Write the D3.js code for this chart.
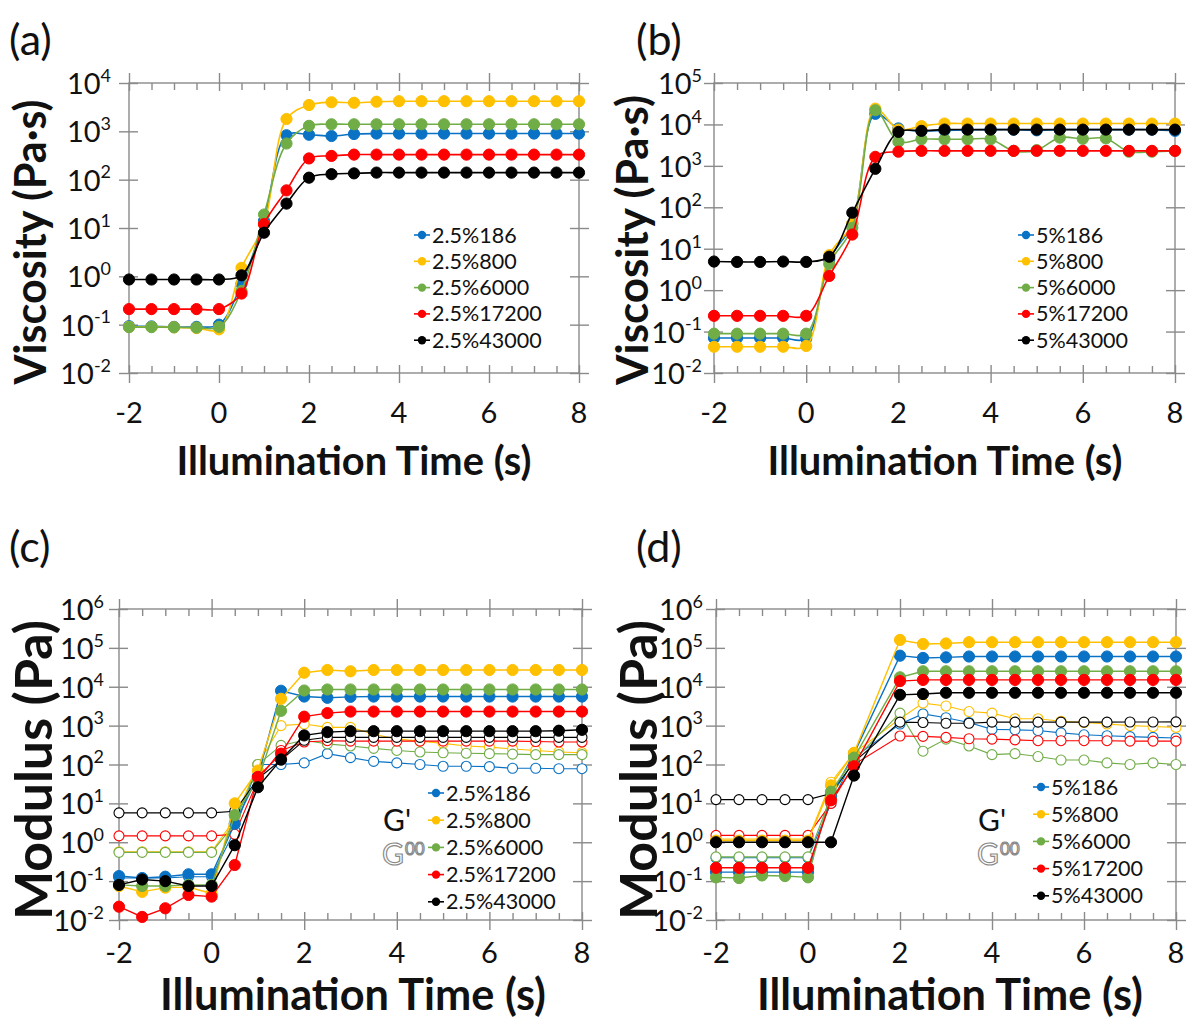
<!DOCTYPE html>
<html><head><meta charset="utf-8">
<script src="https://cdn.jsdelivr.net/npm/d3@7"></script>
<style>
body{margin:0;background:#fff;}
svg{display:block;}
text{font-family:Lato,"Open Sans",sans-serif;fill:#111;}
</style>
</head><body>
<svg id="chart" width="1186" height="1019"></svg>
<script>
// ---------------- DATA ----------------
const times = [-2,-1.5,-1,-0.5,0,0.5,1,1.5,2,2.5,3,3.5,4,4.5,5,5.5,6,6.5,7,7.5,8];
const xTickValues = [-2,0,2,4,6,8];
const seriesColors = ["#0a72c4","#ffc000","#70ad47","#ff0000","#000000"];
const labels25 = ["2.5%186","2.5%800","2.5%6000","2.5%17200","2.5%43000"];
const labels5 = ["5%186","5%800","5%6000","5%17200","5%43000"];

// (a) viscosity, 2.5%
const viscA186   = [0.093,0.092,0.09,0.09,0.1,0.7,14,830,850,800,880,900,900,900,900,900,900,900,900,900,900];
const viscA800   = [0.09,0.09,0.088,0.085,0.08,1.5,12,1800,3500,4000,3900,4100,4200,4200,4200,4200,4200,4200,4200,4200,4200];
const viscA6000  = [0.089,0.089,0.088,0.087,0.09,0.5,19,560,1300,1400,1400,1400,1400,1400,1400,1400,1400,1400,1400,1400,1400];
const viscA17200 = [0.21,0.21,0.21,0.21,0.21,0.44,12,60,275,310,330,330,330,330,330,330,330,330,330,330,330];
const viscA43000 = [0.86,0.86,0.86,0.86,0.86,1.05,8,32,110,130,135,140,140,140,140,140,140,140,140,140,140];

// (b) viscosity, 5%
const viscB186   = [0.07,0.07,0.07,0.07,0.068,5.5,40,18000,8000,7000,7200,7400,7500,7500,7200,7500,7500,7500,7500,7500,7000];
const viscB800   = [0.043,0.043,0.043,0.043,0.045,7,41,24000,7500,9100,10500,10500,10500,10500,10500,10500,10500,10500,10500,10500,10500];
const viscB6000  = [0.089,0.089,0.089,0.089,0.089,4.3,32,22000,3800,4400,4400,4400,4400,2300,2400,4800,4500,4600,2200,2200,2300];
const viscB17200 = [0.24,0.24,0.24,0.24,0.24,2.2,22,1650,2200,2300,2300,2300,2300,2300,2300,2300,2300,2300,2300,2300,2300];
const viscB43000 = [4.9,4.8,4.8,4.9,4.8,6.4,74,850,6600,7000,7500,7500,7500,7500,7500,7500,7500,7500,7500,7500,7500];

// (c) modulus, 2.5%  G' (storage, filled) and G'' (loss, hollow)
const gpC186   = [0.135,0.12,0.13,0.15,0.15,3,50,7900,5600,5200,5500,5600,5600,5600,5600,5600,5600,5600,5600,5600,5600];
const gpC800   = [0.075,0.053,0.068,0.07,0.048,10,70,4900,23000,27000,25000,27000,27000,27000,27000,27000,27000,27000,27000,27000,27000];
const gpC6000  = [0.08,0.075,0.075,0.08,0.08,5,40,2400,8000,8500,8500,8500,8500,8500,8500,8500,8500,8500,8500,8500,8500];
const gpC17200 = [0.022,0.012,0.02,0.044,0.04,0.26,48,190,1700,2100,2300,2300,2300,2300,2300,2300,2300,2300,2300,2300,2300];
const gpC43000 = [0.08,0.11,0.1,0.075,0.075,0.84,26,135,560,680,720,720,720,720,720,720,720,720,720,740,780];
const gppC186   = [0.12,0.12,0.12,0.13,0.13,2,100,100,110,190,150,120,110,100,90,90,88,80,80,78,78];
const gppC800   = [0.57,0.57,0.57,0.57,0.57,4,100,1000,1100,900,900,600,450,400,350,300,280,250,230,210,200];
const gppC6000  = [0.55,0.55,0.55,0.55,0.55,3,100,310,420,340,300,260,230,210,200,195,190,185,180,180,180];
const gppC17200 = [1.46,1.46,1.46,1.46,1.46,1.6,40,230,380,410,400,400,400,400,400,400,400,400,390,380,380];
const gppC43000 = [5.7,5.7,5.7,5.7,5.7,6.3,43,130,420,500,500,500,500,500,500,500,500,500,500,500,500];

// (d) modulus, 5% (no point at 1.5 s)
const gpD186   = [0.17,0.17,0.17,0.17,0.17,15,190,null,63000,55000,57000,60000,60000,60000,60000,60000,60000,60000,60000,60000,60000];
const gpD800   = [1.1,1.1,1.1,1.1,1.1,29,200,null,160000,126000,130000,140000,140000,140000,140000,140000,140000,140000,140000,140000,140000];
const gpD6000  = [0.125,0.12,0.14,0.135,0.125,20,150,null,17500,25000,25000,25000,25000,25000,25000,25000,25000,25000,25000,25000,25000];
const gpD17200 = [0.22,0.22,0.22,0.22,0.22,12,90,null,14000,15000,15000,15000,15000,15000,15000,15000,15000,15000,15000,15000,15000];
const gpD43000 = [1.0,1.0,1.0,1.0,1.0,1.0,52,null,6200,6500,7000,7000,7000,7000,7000,7000,7000,7000,7000,7000,7000];
const gppD186   = [0.4,0.4,0.4,0.4,0.4,10,150,null,1100,2000,1600,1200,800,780,750,650,580,550,520,500,480];
const gppD800   = [1.2,1.2,1.2,1.2,1.2,35,200,null,1500,3800,3200,2300,2100,1500,1500,1300,1200,1100,1000,950,900];
const gppD6000  = [0.42,0.42,0.42,0.42,0.42,15,130,null,2100,220,450,300,180,190,160,130,130,110,100,110,100];
const gppD17200 = [1.5,1.5,1.5,1.5,1.5,10,100,null,540,530,500,460,450,430,410,410,410,410,400,400,400];
const gppD43000 = [12.5,12.5,12.5,12.5,12.5,18,115,null,1230,1200,1150,1150,1230,1230,1230,1230,1230,1230,1240,1240,1250];

// ---------------- DRAWING ----------------
const svg = d3.select("#chart");
const AX = "#8a8a8a";

function fit(sel, target){
  const len = sel.node().getComputedTextLength();
  const fs = parseFloat(sel.attr("font-size"));
  sel.attr("font-size", fs*target/len);
}

function panel(p){
  const g = svg.append("g");
  const x = d3.scaleLinear().domain([-2,8]).range([p.x0,p.x1]);
  const y = d3.scaleLog().domain([1e-2,p.ymax]).range([p.yB,p.yT]);
  const minorX = d3.range(-2,8.001,0.5).filter(v=>!xTickValues.includes(v));
  const eMax = Math.round(Math.log10(p.ymax));
  const decades = d3.range(-2,eMax+1).map(e=>Math.pow(10,e));
  const clean = s=>{s.select(".domain").remove();s.selectAll("text").remove();s.selectAll("line").attr("stroke",AX).attr("stroke-width",1.4);};
  const ax = (tr,gen)=>g.append("g").attr("transform",tr).call(gen.tickFormat("")).call(clean);
  // bottom
  ax(`translate(0,${p.yB})`, d3.axisBottom(x).tickValues(xTickValues).tickSize(10));
  ax(`translate(0,${p.yB})`, d3.axisTop(x).tickValues(xTickValues).tickSize(8));
  ax(`translate(0,${p.yB})`, d3.axisTop(x).tickValues(minorX).tickSize(7));
  // top
  ax(`translate(0,${p.yT})`, d3.axisTop(x).tickValues(xTickValues).tickSize(10));
  ax(`translate(0,${p.yT})`, d3.axisBottom(x).tickValues(xTickValues).tickSize(8));
  ax(`translate(0,${p.yT})`, d3.axisBottom(x).tickValues(minorX).tickSize(7));
  // left / right
  ax(`translate(${p.x0},0)`, d3.axisLeft(y).tickValues(decades).tickSize(10));
  ax(`translate(${p.x0},0)`, d3.axisRight(y).tickValues(decades).tickSize(9));
  ax(`translate(${p.x1},0)`, d3.axisLeft(y).tickValues(decades).tickSize(9));
  ax(`translate(${p.x1},0)`, d3.axisRight(y).tickValues(decades).tickSize(10));
  // frame
  g.append("rect").attr("x",p.x0).attr("y",p.yT).attr("width",p.x1-p.x0).attr("height",p.yB-p.yT)
    .attr("fill","none").attr("stroke",AX).attr("stroke-width",1.4);

  // y tick labels
  decades.forEach(v=>{
    const e = Math.round(Math.log10(v));
    const t = g.append("text").attr("x",p.x0-p.labGap).attr("y",y(v)+p.supBase).attr("text-anchor","end")
      .attr("font-size",p.tickFs);
    t.append("tspan").text("10");
    t.append("tspan").attr("font-size",p.tickFs*0.62).attr("dy",-p.tickFs*0.42).text(String(e));
  });
  // x tick labels
  xTickValues.forEach(v=>{
    g.append("text").attr("x",x(v)).attr("y",p.yB+p.xLabOff).attr("text-anchor","middle")
      .attr("font-size",p.tickFs).text(String(v));
  });
  // titles
  const xt = g.append("text").attr("x",p.xtCx).attr("y",p.xtY).attr("text-anchor","middle")
    .attr("font-weight",700).attr("font-size",36).text("Illumination Time (s)");
  fit(xt,p.xtW);
  const yt = g.append("text").attr("transform",`translate(${p.ytX},${p.ytCy}) rotate(-90)`).attr("text-anchor","middle")
    .attr("font-weight",700).attr("font-size",40).text(p.yTitle);
  fit(yt,p.ytW);
  g.append("text").attr("x",p.tagX).attr("y",p.tagY).attr("font-size",43).text(p.tag);

  // series
  const line = d3.line().x(d=>x(d[0])).y(d=>y(d[1]))
    .curve(p.smooth ? d3.curveCatmullRom.alpha(0.5) : d3.curveLinear);
  const drawSet = (set, hollow)=>{
    set.forEach((vals,i)=>{
      const pts = times.map((t,k)=>[t,vals[k]]).filter(d=>d[1]!=null);
      g.append("path").attr("d",line(pts)).attr("fill","none").attr("stroke",seriesColors[i])
        .attr("stroke-width", hollow?1.1:(p.smooth?1.6:1.4));
      g.append("g").selectAll("circle").data(pts).join("circle")
        .attr("cx",d=>x(d[0])).attr("cy",d=>y(d[1])).attr("r",hollow?5:5.6)
        .attr("fill",hollow?"#fff":seriesColors[i]).attr("stroke",seriesColors[i]).attr("stroke-width",hollow?1.1:1);
    });
  };
  if(p.loss) drawSet(p.loss,true);
  drawSet(p.main,false);

  // legend
  p.legendLabels.forEach((lab,i)=>{
    const yy = p.legY + i*p.legDy;
    g.append("line").attr("x1",p.legX).attr("x2",p.legX+16).attr("y1",yy).attr("y2",yy)
      .attr("stroke",seriesColors[i]).attr("stroke-width",1.6);
    g.append("circle").attr("cx",p.legX+8).attr("cy",yy).attr("r",4.2).attr("fill",seriesColors[i]);
    g.append("text").attr("x",p.legX+18).attr("y",yy+7.5).attr("font-size",21.5).text(lab);
  });
  if(p.gX){
    g.append("text").attr("x",p.gX).attr("y",p.gY).attr("font-size",30).text("G'");
    const t2 = g.append("text").attr("x",p.gX-1).attr("y",p.gY+34).attr("font-size",30)
      .style("fill","#fff").style("stroke","#8a8a8a").style("stroke-width",1.2);
    t2.append("tspan").text("G");
    t2.append("tspan").attr("font-size",17).attr("dy",-10).attr("dx",1).text("00");
  }
}

panel({x0:129,x1:579,yT:83,yB:373,ymax:1e4,smooth:true,
  main:[viscA186,viscA800,viscA6000,viscA17200,viscA43000],legendLabels:labels25,
  legX:414,legY:235,legDy:26.3,
  labGap:18,supBase:11,tickFs:29,xLabOff:50,
  xtCx:354,xtY:475,xtW:355,ytX:46,ytCy:242,ytW:285,yTitle:"Viscosity (Pa·s)",
  tag:"(a)",tagX:9,tagY:55});
panel({x0:714,x1:1175,yT:83,yB:373,ymax:1e5,smooth:true,
  main:[viscB186,viscB800,viscB6000,viscB17200,viscB43000],legendLabels:labels5,
  legX:1018,legY:235,legDy:26.3,
  labGap:12,supBase:11,tickFs:29,xLabOff:50,
  xtCx:945,xtY:475,xtW:355,ytX:648,ytCy:240,ytW:290,yTitle:"Viscosity (Pa·s)",
  tag:"(b)",tagX:636,tagY:55});
panel({x0:119,x1:582,yT:609,yB:920,ymax:1e6,smooth:false,
  main:[gpC186,gpC800,gpC6000,gpC17200,gpC43000],
  loss:[gppC186,gppC800,gppC6000,gppC17200,gppC43000],legendLabels:labels25,
  legX:428,legY:793,legDy:27.2,gX:383,gY:831,
  labGap:15,supBase:11,tickFs:29,xLabOff:43,
  xtCx:353,xtY:1010,xtW:386,ytX:52,ytCy:770,ytW:300,yTitle:"Modulus (Pa)",
  tag:"(c)",tagX:9,tagY:562});
panel({x0:716,x1:1176,yT:609,yB:920,ymax:1e6,smooth:false,
  main:[gpD186,gpD800,gpD6000,gpD17200,gpD43000],
  loss:[gppD186,gppD800,gppD6000,gppD17200,gppD43000],legendLabels:labels5,
  legX:1033,legY:787,legDy:27.2,gX:978,gY:831,
  labGap:13,supBase:11,tickFs:29,xLabOff:43,
  xtCx:950,xtY:1010,xtW:386,ytX:657,ytCy:770,ytW:300,yTitle:"Modulus (Pa)",
  tag:"(d)",tagX:636,tagY:562});
</script>
</body></html>
